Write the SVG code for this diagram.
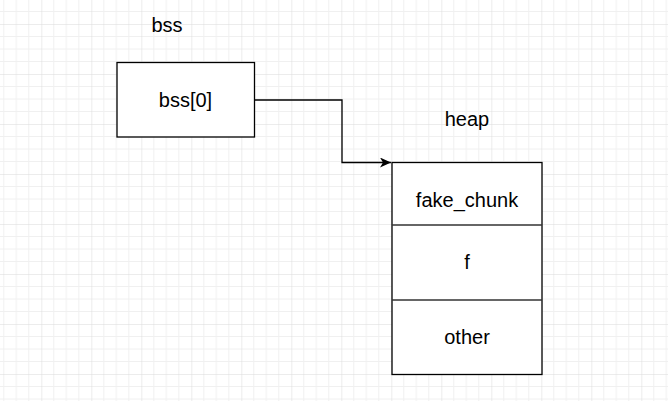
<svg xmlns="http://www.w3.org/2000/svg" width="668" height="401" viewBox="0 0 668 401">
  <style>
    .box { fill: #ffffff; stroke: #000000; stroke-width: 1.3; }
    .div { fill: none; stroke: #333333; stroke-width: 1.3; }
    .lbl { font-family: "Liberation Sans", Arial, sans-serif; font-size: 20px; fill: #000000; text-anchor: middle; }
    .edge { fill: none; stroke: #000000; stroke-width: 1.3; }
  </style>
  <defs>
    <pattern id="grid" patternUnits="userSpaceOnUse" x="-8.7" y="-26" width="50" height="50">
      <path d="M12.5,0V50M25,0V50M37.5,0V50M0,12.5H50M0,25H50M0,37.5H50" stroke="#f0f0f0" stroke-width="1" fill="none"/>
      <path d="M0,0V50M0,0H50" stroke="#dadada" stroke-width="1" fill="none"/>
    </pattern>
    <marker id="arrow" markerUnits="userSpaceOnUse" markerWidth="14" markerHeight="12" refX="11" refY="5" orient="auto">
      <path d="M0,0 L11,5 L0,10 L3,5 Z" fill="#000000"/>
    </marker>
  </defs>
  <rect x="0" y="0" width="668" height="401" fill="#ffffff"/>
  <rect x="0" y="0" width="668" height="401" fill="url(#grid)"/>

  <g id="label-bss">
    <text class="lbl" x="167" y="31.5">bss</text>
  </g>
  <g id="node-bss0">
    <rect class="box" x="117" y="62.5" width="137.5" height="74.5"/>
    <text class="lbl" x="185.5" y="107">bss[0]</text>
  </g>
  <g id="label-heap">
    <text class="lbl" x="467" y="125.5">heap</text>
  </g>
  <g id="node-heap">
    <rect class="box" x="392" y="162.5" width="150" height="212"/>
    <line class="div" x1="392" y1="225" x2="542" y2="225"/>
    <line class="div" x1="392" y1="300" x2="542" y2="300"/>
    <text class="lbl" x="467" y="206.5">fake_chunk</text>
    <text class="lbl" x="467" y="269">f</text>
    <text class="lbl" x="467" y="344">other</text>
  </g>
  <g id="connectors">
    <path class="edge" d="M254.5,100 H342 V162.5 H391" marker-end="url(#arrow)"/>
  </g>
</svg>
